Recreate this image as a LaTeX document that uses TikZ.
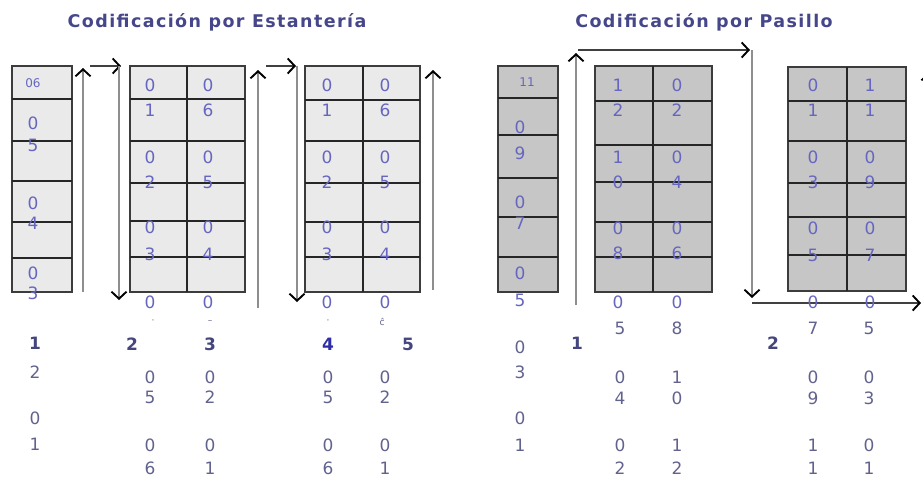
\documentclass[tikz,border=0pt]{standalone}
\usepackage{fontspec}
\setmainfont{DejaVu Sans}
\newfontfamily\headfont[LetterSpace=8]{DejaVu Sans}
\usetikzlibrary{arrows.meta}

\definecolor{cellA}{HTML}{EAEAEA}
\definecolor{cellB}{HTML}{C6C6C6}
\definecolor{framec}{HTML}{3C3C3C}
\definecolor{digin}{HTML}{6666C0}
\definecolor{digout}{HTML}{62628E}
\definecolor{lblc}{HTML}{46467E}
\definecolor{lblblue}{HTML}{2E2EA8}
\definecolor{headc}{HTML}{46468A}
\definecolor{railc}{HTML}{8E8E8E}

\tikzset{
  shelfA/.style={fill=cellA, draw=framec, line width=1.8pt},
  shelfB/.style={fill=cellB, draw=framec, line width=1.8pt},
  divider/.style={draw=black!85, line width=1.1pt},
  dig/.style={font=\fontsize{17}{17}\selectfont, text=digin, inner sep=0pt},
  digo/.style={dig, text=digout},
  smalldig/.style={font=\fontsize{12}{12}\selectfont, text=digin, inner sep=0pt},
  crumb/.style={font=\fontsize{9}{9}\selectfont, text=digout, inner sep=0pt},
  lbl/.style={font=\fontsize{17}{17}\selectfont\bfseries, text=lblc, inner sep=0pt},
  head/.style={font=\headfont\fontsize{17.5}{17.5}\selectfont\bfseries, text=headc, inner sep=0pt},
  tipbarb/.style={-{Straight Barb[length=7pt,width=15pt,line width=1.9pt,color=black]}},
  rail/.style={draw=railc, line width=2.6pt, tipbarb},
  link/.style={draw=black!75, line width=1.2pt, tipbarb},
}

\begin{document}
\begin{tikzpicture}[x=1pt,y=-1pt]
\useasboundingbox (0,0) rectangle (923,482);
\clip (0,0) rectangle (923,482);

% ---------- headings ----------
\node[head] (t1) at (217,22) {Codificación por Estantería};
\node[head] (t2) at (704,22) {Codificación por Pasillo};

% ================= shelves, left block =================
% single shelf
\draw[shelfA] (12,66) rectangle (72,292);
\foreach \y in {99,141,181,222,258} \draw[divider] (12,\y) -- (72,\y);
% double shelf 1
\draw[shelfA] (130,66) rectangle (245,292);
\draw[divider] (187,66) -- (187,292);
\foreach \y in {99,141,183,221,257} \draw[divider] (130,\y) -- (245,\y);
% double shelf 2
\draw[shelfA] (305,66) rectangle (420,292);
\draw[divider] (363,66) -- (363,292);
\foreach \y in {100,141,183,222,257} \draw[divider] (305,\y) -- (420,\y);

% ================= shelves, right block =================
\draw[shelfB] (498,66) rectangle (558,292);
\foreach \y in {98,135,178,217,257} \draw[divider] (498,\y) -- (558,\y);
\draw[shelfB] (595,66) rectangle (712,292);
\draw[divider] (653,66) -- (653,292);
\foreach \y in {101,145,182,222,257} \draw[divider] (595,\y) -- (712,\y);
\draw[shelfB] (788,67) rectangle (906,291);
\draw[divider] (847,67) -- (847,291);
\foreach \y in {101,141,183,217,255} \draw[divider] (788,\y) -- (906,\y);

% ================= route arrows, left block =================
\coordinate (a1s) at (83,292);  \coordinate (a1e) at (83,68);
\coordinate (h1s) at (90,66);   \coordinate (h1e) at (121,66);
\coordinate (d1s) at (119,66);  \coordinate (d1e) at (119,300);
\coordinate (a2s) at (258,308); \coordinate (a2e) at (258,70);
\coordinate (h2s) at (266,66);  \coordinate (h2e) at (296,66);
\coordinate (d2s) at (297,66);  \coordinate (d2e) at (297,302);
\coordinate (a3s) at (433,290); \coordinate (a3e) at (433,70);
\draw[rail] (a1s) -- (a1e);
\draw[link] (h1s) -- (h1e);
\draw[rail] (d1s) -- (d1e);
\draw[rail] (a2s) -- (a2e);
\draw[link] (h2s) -- (h2e);
\draw[rail] (d2s) -- (d2e);
\draw[rail] (a3s) -- (a3e);

% ================= route arrows, right block =================
\coordinate (p1s) at (576,305); \coordinate (p1e) at (576,53);
\coordinate (q1s) at (578,50);  \coordinate (q1e) at (750,50);
\coordinate (p2s) at (752,50);  \coordinate (p2e) at (752,298);
\coordinate (q2s) at (752,303); \coordinate (q2e) at (921,303);
\coordinate (p3s) at (929,290); \coordinate (p3e) at (929,72);
\draw[rail] (p1s) -- (p1e);
\draw[link] (q1s) -- (q1e);
\draw[rail] (p2s) -- (p2e);
\draw[link] (q2s) -- (q2e);
\draw[rail] (p3s) -- (p3e);

% ================= codes, left block =================
% single shelf
\node[smalldig] (sa0) at (33,83) {06};
\foreach \y/\t in {123/0,145/5,203/0,223/4,273/0,293/3}
  \node[dig] (sa\y) at (33,\y) {\t};
\foreach \y/\t in {372/2,418/0,444/1}
  \node[digo] (sb\y) at (35,\y) {\t};
\node[lbl] (n1) at (35,343) {1};

% double shelf 1
\foreach \y/\l/\r in {85/0/0,110/1/6,157/0/0,182/2/5,227/0/0,254/3/4,302/0/0} {
  \node[dig] (bl\y) at (150,\y) {\l};
  \node[dig] (br\y) at (208,\y) {\r};
}
\node[crumb] (bc1) at (153,322) {·};
\node[crumb] (bc2) at (210,322) {–};
\node[lbl] (n2) at (132,344) {2};
\node[lbl] (n3) at (210,344) {3};
\foreach \y/\l/\r in {377/0/0,397/5/2,445/0/0,468/6/1} {
  \node[digo] (bol\y) at (150,\y) {\l};
  \node[digo] (bor\y) at (210,\y) {\r};
}

% double shelf 2
\foreach \y/\l/\r in {85/0/0,110/1/6,157/0/0,182/2/5,227/0/0,254/3/4,302/0/0} {
  \node[dig] (cl\y) at (327,\y) {\l};
  \node[dig] (cr\y) at (385,\y) {\r};
}
\node[crumb] (cc1) at (328,322) {·};
\node[crumb] (cc2) at (382,322) {ĉ};
\node[lbl, text=lblblue] (n4) at (328,344) {4};
\node[lbl] (n5) at (408,344) {5};
\foreach \y/\l/\r in {377/0/0,397/5/2,445/0/0,468/6/1} {
  \node[digo] (col\y) at (328,\y) {\l};
  \node[digo] (cor\y) at (385,\y) {\r};
}

% ================= codes, right block =================
\node[smalldig] (da0) at (527,82) {11};
\foreach \y/\t in {127/0,153/9,202/0,223/7,273/0,300/5}
  \node[dig] (da\y) at (520,\y) {\t};
\foreach \y/\t in {347/0,372/3,418/0,445/1}
  \node[digo] (db\y) at (520,\y) {\t};
\node[lbl] (m1) at (577,343) {1};

\foreach \y/\l/\r in {85/1/0,110/2/2,157/1/0,182/0/4,228/0/0,253/8/6,302/0/0} {
  \node[dig] (el\y) at (618,\y) {\l};
  \node[dig] (er\y) at (677,\y) {\r};
}
\foreach \y/\l/\r in {328/5/8,377/0/1,398/4/0,445/0/1,468/2/2} {
  \node[digo] (eol\y) at (620,\y) {\l};
  \node[digo] (eor\y) at (677,\y) {\r};
}

\foreach \y/\l/\r in {85/0/1,110/1/1,157/0/0,182/3/9,228/0/0,255/5/7,302/0/0} {
  \node[dig] (fl\y) at (813,\y) {\l};
  \node[dig] (fr\y) at (870,\y) {\r};
}
\node[lbl] (m2) at (773,343) {2};
\foreach \y/\l/\r in {328/7/5,377/0/0,398/9/3,445/1/0,468/1/1} {
  \node[digo] (fol\y) at (813,\y) {\l};
  \node[digo] (for\y) at (869,\y) {\r};
}
\end{tikzpicture}
\end{document}
